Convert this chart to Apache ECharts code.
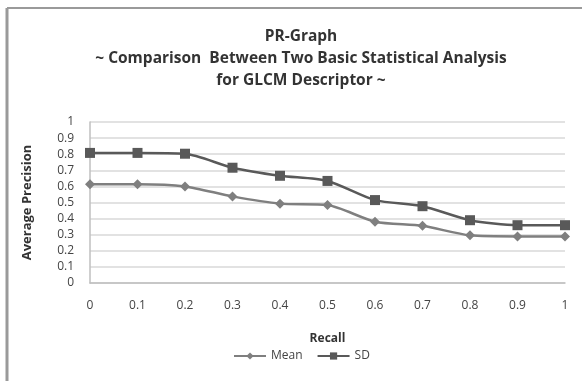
<!DOCTYPE html>
<html>
<head>
<meta charset="UTF-8">
<script src="https://cdn.jsdelivr.net/npm/echarts@6/dist/echarts.min.js"></script>
<title>PR-Graph</title>
<style>
  html, body { margin: 0; padding: 0; background: #fff; }
  #container { width: 582px; height: 381px; }
</style>
</head>
<body>
<div id="container"></div>
<script>
// recall points on the x axis
var recall = ['0', '0.1', '0.2', '0.3', '0.4', '0.5', '0.6', '0.7', '0.8', '0.9', '1'];
// average precision
var meanValues = [0.614, 0.614, 0.600, 0.538, 0.493, 0.484, 0.381, 0.355, 0.296, 0.289, 0.289];
var sdValues = [0.808, 0.808, 0.803, 0.716, 0.666, 0.634, 0.515, 0.477, 0.390, 0.359, 0.359];

var font = '"Open Sans", "Liberation Sans", sans-serif';

var dom = document.getElementById('container');
var myChart = echarts.init(dom);
var option = {
    animation: false,
    backgroundColor: '#fff',
    title: {
        text: 'PR-Graph\n~ Comparison  Between Two Basic Statistical Analysis\nfor GLCM Descriptor ~',
        left: 296,
        top: 21,
        textAlign: 'center',
        textStyle: {
            fontFamily: font,
            fontSize: 15.5,
            fontWeight: 'bold',
            color: '#333',
            lineHeight: 22
        }
    },
    graphic: [
        // frame of the original chart box (left and top edges visible)
        { type: 'line', shape: { x1: 7, y1: 8, x2: 7, y2: 381 }, style: { stroke: '#9a9a9a', lineWidth: 3 } },
        { type: 'line', shape: { x1: 7, y1: 8, x2: 582, y2: 8 }, style: { stroke: '#9a9a9a', lineWidth: 2 } }
    ],
    legend: {
        data: ['Mean', 'SD'],
        top: 345,
        left: 228,
        itemWidth: 32,
        itemHeight: 9,
        itemGap: 14,
        textStyle: { fontFamily: font, fontSize: 12, color: '#444' }
    },
    grid: {
        left: 90,
        right: 17,
        top: 122,
        bottom: 98
    },
    xAxis: {
        type: 'category',
        data: recall,
        boundaryGap: false,
        name: 'Recall',
        nameLocation: 'middle',
        nameGap: 50,
        nameTextStyle: { fontFamily: font, fontSize: 12, fontWeight: 'bold', color: '#333' },
        axisLine: { lineStyle: { color: '#bfbfbf', width: 1.5 } },
        axisTick: { show: false },
        axisLabel: { margin: 17, fontFamily: font, fontSize: 12, color: '#444' },
        splitLine: { show: false }
    },
    yAxis: {
        type: 'value',
        min: 0,
        max: 1,
        interval: 0.1,
        name: 'Average Precision',
        nameLocation: 'middle',
        nameGap: 56,
        nameTextStyle: { fontFamily: font, fontSize: 13, fontWeight: 'bold', color: '#333' },
        axisLine: { show: true, lineStyle: { color: '#bfbfbf', width: 1.5 } },
        axisTick: { show: false },
        axisLabel: { margin: 16, fontFamily: font, fontSize: 12, color: '#444' },
        splitLine: { lineStyle: { color: '#d9d9d9', width: 1.5 } }
    },
    series: [
        {
            name: 'Mean',
            type: 'line',
            data: meanValues,
            smooth: 0.25,
            symbol: 'diamond',
            symbolSize: 10,
            itemStyle: { color: '#7f7f7f' },
            lineStyle: { color: '#7f7f7f', width: 2.5 }
        },
        {
            name: 'SD',
            type: 'line',
            data: sdValues,
            smooth: 0.25,
            symbol: 'rect',
            symbolSize: 10,
            itemStyle: { color: '#595959' },
            lineStyle: { color: '#595959', width: 2.5 }
        }
    ]
};

if (option && typeof option === 'object') {
    myChart.setOption(option, true);
}
</script>
</body>
</html>
